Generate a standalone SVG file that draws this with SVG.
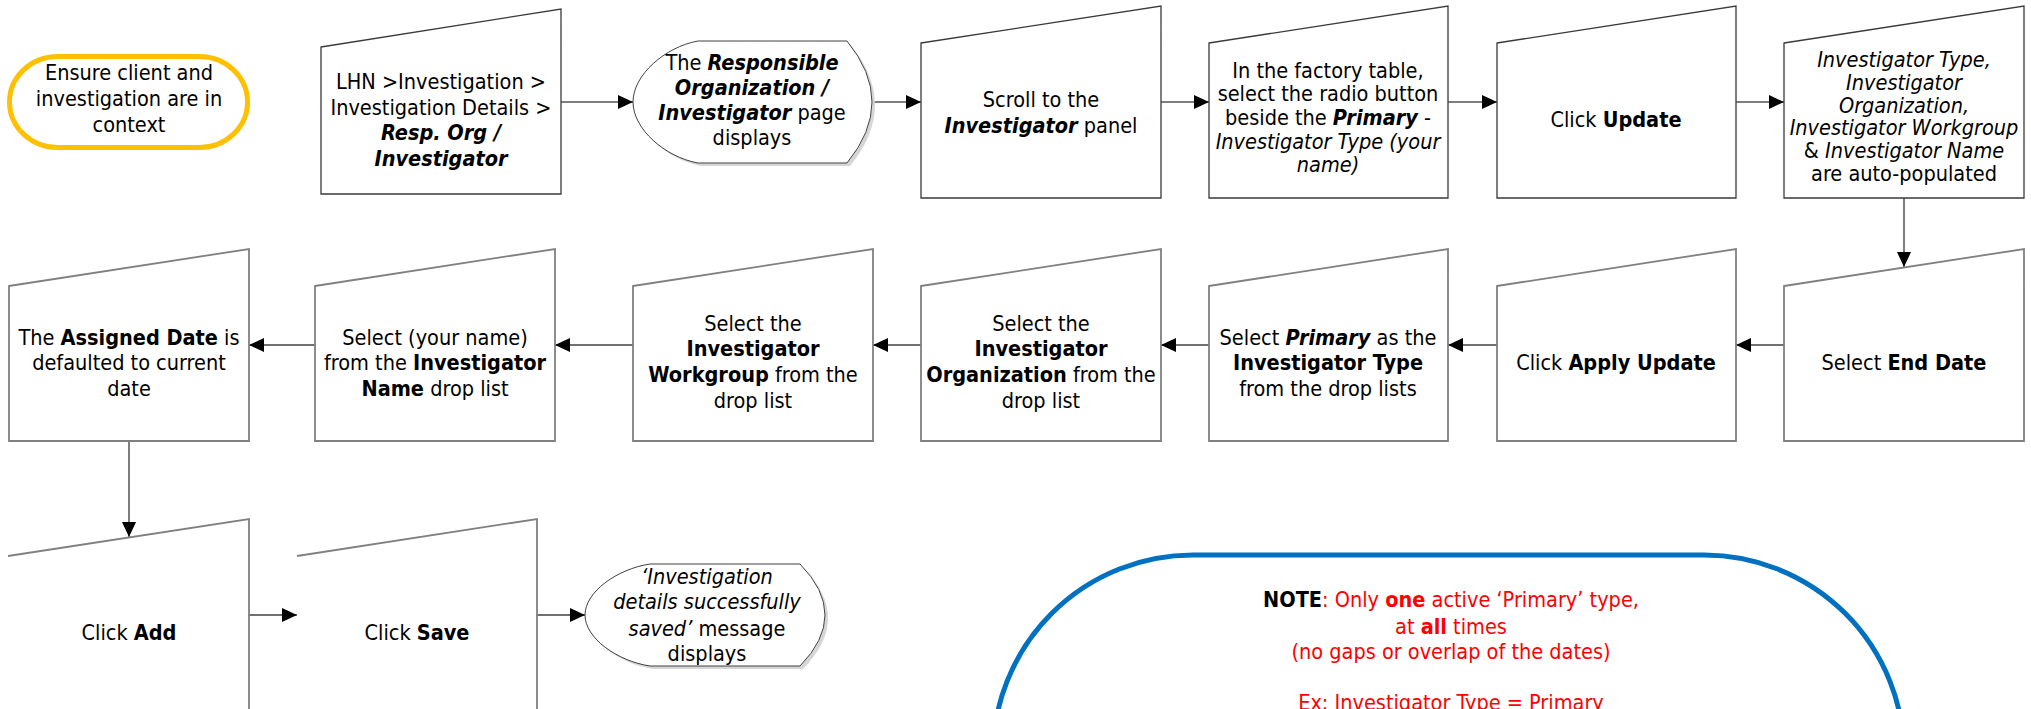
<svg xmlns="http://www.w3.org/2000/svg" width="2031" height="709" viewBox="0 0 2031 709">
<style>
.t{font-family:"DejaVu Sans Condensed","DejaVu Sans",sans-serif;font-stretch:condensed;font-size:21.5px;fill:#000;text-anchor:middle}
.b{font-weight:bold}
.i{font-style:italic}
.bi{font-weight:bold;font-style:italic}
.r{fill:#ff0000}
.box1{fill:#fff;stroke:#3a3a3a;stroke-width:1.3}
.box2{fill:#fff;stroke:#808080;stroke-width:1.8}
.disp{fill:#fff;stroke:#404040;stroke-width:1}
.shadow{fill:#d6d6d6}
.c1{fill:none;stroke:#000;stroke-width:1.2}
.c2{fill:none;stroke:#707070;stroke-width:1.8}
</style>
<defs>
<marker id="ah" markerUnits="userSpaceOnUse" markerWidth="15" markerHeight="14" refX="15" refY="7" orient="auto">
<path d="M0,0 L15,7 L0,14 Z" fill="#000"/>
</marker>
</defs>
<rect width="2031" height="709" fill="#fff"/>

<g id="connectors">
<line class="c1" x1="561" y1="102" x2="633" y2="102" marker-end="url(#ah)"/>
<line class="c1" x1="872" y1="102" x2="921" y2="102" marker-end="url(#ah)"/>
<line class="c1" x1="1161" y1="102" x2="1209" y2="102" marker-end="url(#ah)"/>
<line class="c1" x1="1448" y1="102" x2="1497" y2="102" marker-end="url(#ah)"/>
<line class="c1" x1="1736" y1="102" x2="1784" y2="102" marker-end="url(#ah)"/>
<line class="c2" x1="1904" y1="198" x2="1904" y2="267" marker-end="url(#ah)"/>
<line class="c2" x1="1784" y1="345" x2="1736" y2="345" marker-end="url(#ah)"/>
<line class="c2" x1="1497" y1="345" x2="1448" y2="345" marker-end="url(#ah)"/>
<line class="c2" x1="1209" y1="345" x2="1161" y2="345" marker-end="url(#ah)"/>
<line class="c2" x1="921" y1="345" x2="873" y2="345" marker-end="url(#ah)"/>
<line class="c2" x1="633" y1="345" x2="555" y2="345" marker-end="url(#ah)"/>
<line class="c2" x1="315" y1="345" x2="249" y2="345" marker-end="url(#ah)"/>
<line class="c2" x1="129" y1="441" x2="129" y2="537" marker-end="url(#ah)"/>
<line class="c2" x1="249" y1="615" x2="297" y2="615" marker-end="url(#ah)"/>
<line class="c2" x1="537" y1="615" x2="585" y2="615" marker-end="url(#ah)"/>
</g>

<g id="start">
<rect x="9.5" y="56.5" width="238" height="91" rx="48" ry="45.5" fill="#fff" stroke="#ffc000" stroke-width="5"/>
<text class="t"><tspan x="129" y="80">Ensure client and</tspan><tspan x="129" y="106">investigation are in</tspan><tspan x="129" y="132">context</tspan></text>
</g>

<g id="n1">
<path class="box1" d="M321,47 L561,9 L561,194 L321,194 Z"/>
<text class="t"><tspan x="441" y="89">LHN &gt;Investigation &gt;</tspan><tspan x="441" y="115">Investigation Details &gt;</tspan><tspan x="441" y="140" class="bi">Resp. Org /</tspan><tspan x="441" y="166" class="bi">Investigator</tspan></text>
</g>

<g id="n2">
<path class="shadow" transform="translate(3,3)" d="M698,41 L847,41 Q897,102 847,163 L698,163 C665,157 633,129 633,102 C633,75 665,47 698,41 Z"/>
<path class="disp" d="M698,41 L847,41 Q897,102 847,163 L698,163 C665,157 633,129 633,102 C633,75 665,47 698,41 Z"/>
<text class="t"><tspan x="752" y="70">The <tspan class="bi">Responsible</tspan></tspan><tspan x="752" y="95" class="bi">Organization /</tspan><tspan x="752" y="120"><tspan class="bi">Investigator</tspan> page</tspan><tspan x="752" y="145">displays</tspan></text>
</g>

<g id="n3">
<path class="box1" d="M921,43 L1161,6 L1161,198 L921,198 Z"/>
<text class="t"><tspan x="1041" y="107">Scroll to the</tspan><tspan x="1041" y="133"><tspan class="bi">Investigator</tspan> panel</tspan></text>
</g>

<g id="n4">
<path class="box1" d="M1209,43 L1448,6 L1448,198 L1209,198 Z"/>
<text class="t"><tspan x="1328" y="78">In the factory table,</tspan><tspan x="1328" y="101">select the radio button</tspan><tspan x="1328" y="125">beside the <tspan class="bi">Primary</tspan> -</tspan><tspan x="1328" y="149" class="i">Investigator Type (your</tspan><tspan x="1328" y="172" class="i">name)</tspan></text>
</g>

<g id="n5">
<path class="box1" d="M1497,43 L1736,6 L1736,198 L1497,198 Z"/>
<text class="t"><tspan x="1616" y="127">Click <tspan class="b">Update</tspan></tspan></text>
</g>

<g id="n6">
<path class="box1" d="M1784,43 L2024,6 L2024,198 L1784,198 Z"/>
<text class="t"><tspan x="1904" y="67" class="i">Investigator Type,</tspan><tspan x="1904" y="90" class="i">Investigator</tspan><tspan x="1904" y="113" class="i">Organization,</tspan><tspan x="1904" y="135" class="i">Investigator Workgroup</tspan><tspan x="1904" y="158">&amp; <tspan class="i">Investigator Name</tspan></tspan><tspan x="1904" y="181">are auto-populated</tspan></text>
</g>

<g id="n7">
<path class="box2" d="M1784,286 L2024,249 L2024,441 L1784,441 Z"/>
<text class="t"><tspan x="1904" y="370">Select <tspan class="b">End Date</tspan></tspan></text>
</g>

<g id="n8">
<path class="box2" d="M1497,286 L1736,249 L1736,441 L1497,441 Z"/>
<text class="t"><tspan x="1616" y="370">Click <tspan class="b">Apply Update</tspan></tspan></text>
</g>

<g id="n9">
<path class="box2" d="M1209,286 L1448,249 L1448,441 L1209,441 Z"/>
<text class="t"><tspan x="1328" y="345">Select <tspan class="bi">Primary</tspan> as the</tspan><tspan x="1328" y="370" class="b">Investigator Type</tspan><tspan x="1328" y="396">from the drop lists</tspan></text>
</g>

<g id="n10">
<path class="box2" d="M921,286 L1161,249 L1161,441 L921,441 Z"/>
<text class="t"><tspan x="1041" y="331">Select the</tspan><tspan x="1041" y="356" class="b">Investigator</tspan><tspan x="1041" y="382"><tspan class="b">Organization</tspan> from the</tspan><tspan x="1041" y="408">drop list</tspan></text>
</g>

<g id="n11">
<path class="box2" d="M633,286 L873,249 L873,441 L633,441 Z"/>
<text class="t"><tspan x="753" y="331">Select the</tspan><tspan x="753" y="356" class="b">Investigator</tspan><tspan x="753" y="382"><tspan class="b">Workgroup</tspan> from the</tspan><tspan x="753" y="408">drop list</tspan></text>
</g>

<g id="n12">
<path class="box2" d="M315,286 L555,249 L555,441 L315,441 Z"/>
<text class="t"><tspan x="435" y="345">Select (your name)</tspan><tspan x="435" y="370">from the <tspan class="b">Investigator</tspan></tspan><tspan x="435" y="396"><tspan class="b">Name</tspan> drop list</tspan></text>
</g>

<g id="n13">
<path class="box2" d="M9,286 L249,249 L249,441 L9,441 Z"/>
<text class="t"><tspan x="129" y="345">The <tspan class="b">Assigned Date</tspan> is</tspan><tspan x="129" y="370">defaulted to current</tspan><tspan x="129" y="396">date</tspan></text>
</g>

<g id="n14">
<path class="box2" d="M8,556 L249,519 L249,730 L8,730"/>
<text class="t"><tspan x="129" y="640">Click <tspan class="b">Add</tspan></tspan></text>
</g>

<g id="n15">
<path class="box2" d="M297,556 L537,519 L537,730 L297,730"/>
<text class="t"><tspan x="417" y="640">Click <tspan class="b">Save</tspan></tspan></text>
</g>

<g id="n16">
<path class="shadow" transform="translate(3,3)" d="M650,564 L800,564 Q850,615 800,666 L650,666 C617,661 585,638 585,615 C585,592 617,569 650,564 Z"/>
<path class="disp" d="M650,564 L800,564 Q850,615 800,666 L650,666 C617,661 585,638 585,615 C585,592 617,569 650,564 Z"/>
<text class="t"><tspan x="707" y="584" class="i">‘Investigation</tspan><tspan x="707" y="609" class="i">details successfully</tspan><tspan x="707" y="636"><tspan class="i">saved’</tspan> message</tspan><tspan x="707" y="661">displays</tspan></text>
</g>

<g id="note">
<rect x="993" y="555" width="911" height="420" rx="200" ry="200" fill="#fff" stroke="#0070c0" stroke-width="5"/>
<text class="t"><tspan x="1451" y="607"><tspan class="b">NOTE</tspan><tspan class="r">: Only </tspan><tspan class="r b">one</tspan><tspan class="r"> active ‘Primary’ type,</tspan></tspan><tspan x="1451" y="634" class="r">at <tspan class="b">all</tspan> times</tspan><tspan x="1451" y="659" class="r">(no gaps or overlap of the dates)</tspan><tspan x="1451" y="710" class="r">Ex: Investigator Type = Primary</tspan></text>
</g>
</svg>
